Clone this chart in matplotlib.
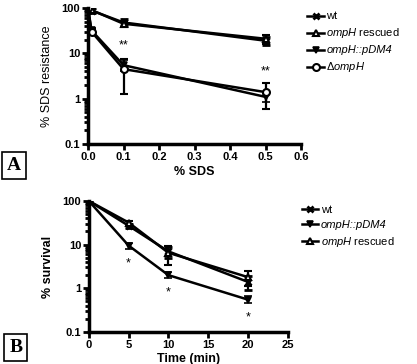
import matplotlib
matplotlib.use("Agg")
import matplotlib.pyplot as plt
from matplotlib.lines import Line2D
from matplotlib.ticker import LogLocator, NullFormatter, FixedLocator, FixedFormatter

plt.rcParams['font.family'] = ['Liberation Sans', 'DejaVu Sans']
plt.rcParams['mathtext.fontset'] = 'custom'
plt.rcParams['mathtext.it'] = 'Liberation Sans:italic'
plt.rcParams['mathtext.rm'] = 'Liberation Sans'

# Panel A data
sds = [0, 0.01, 0.1, 0.5]
wt_a = [100, 88, 48, 19]
wt_a_err = [6, 10, 8, 4]
resc_a = [100, 90, 45, 21]
resc_a_err = [6, 10, 6, 5]
pdm4_a = [100, 32, 5.5, 1.1]
pdm4_a_err = [4, 4, 1.5, 0.25]
delta_a = [100, 30, 4.5, 1.4]
delta_a_err = [4, 4, 3.2, 0.8]
stars_a_x = [0.1, 0.5]
stars_a_y = [15, 4.0]

# Panel B data
time = [0, 5, 10, 20]
wt_b = [100, 27, 7, 1.4]
wt_b_err = [0, 3, 2, 0.5]
pdm4_b = [100, 9.5, 2.0, 0.55]
pdm4_b_err = [0, 1.5, 0.3, 0.1]
resc_b = [100, 32, 6.5, 1.8]
resc_b_err = [0, 3, 3, 0.7]
stars_b_x = [5, 10, 20]
stars_b_y = [3.8, 0.8, 0.22]

fig = plt.figure(figsize=(4.17, 3.64), dpi=100)
axA = fig.add_axes([0.211, 0.604, 0.511, 0.374])
axB = fig.add_axes([0.213, 0.088, 0.477, 0.360])

lw = 1.8
common = dict(color='black', lw=lw, capsize=3, elinewidth=1.6, capthick=1.6, ms=5)

sty = {
    'wt': dict(marker='x', mew=2, mfc='black'),
    'resc': dict(marker='^', mfc='white', mew=1.5),
    'pdm4': dict(marker='v', mfc='black', mew=1.2),
    'delta': dict(marker='o', mfc='white', mew=1.5),
}

def handle(key):
    return Line2D([], [], color='black', lw=lw, ms=5, **sty[key])

def style(ax, xticks, xlabels, xlim):
    ax.set_yscale('log')
    ax.set_ylim(0.1, 100)
    ax.set_xlim(*xlim)
    for s in ['top', 'right']:
        ax.spines[s].set_visible(False)
    for s in ['left', 'bottom']:
        ax.spines[s].set_linewidth(2.5)
    ax.yaxis.set_major_locator(FixedLocator([0.1, 1, 10, 100]))
    ax.yaxis.set_major_formatter(FixedFormatter(['0.1', '1', '10', '100']))
    ax.yaxis.set_minor_locator(LogLocator(base=10, subs=range(2, 10)))
    ax.yaxis.set_minor_formatter(NullFormatter())
    ax.set_xticks(xticks)
    ax.set_xticklabels(xlabels)
    ax.tick_params(axis='both', which='major', width=2, length=4, labelsize=8, pad=1.5)
    ax.tick_params(axis='y', which='minor', width=2, length=3)
    for t in ax.get_xticklabels() + ax.get_yticklabels():
        t.set_fontweight('bold')

def make_legend(ax, keys, labels, italic_idx, anchor, spacing):
    leg = ax.legend([handle(k) for k in keys], labels, loc='upper left',
                    bbox_to_anchor=anchor, frameon=False, fontsize=8,
                    handlelength=1.5, handletextpad=0.2, labelspacing=spacing,
                    borderaxespad=0, borderpad=0)
    for i in italic_idx:
        leg.get_texts()[i].set_fontstyle('italic')
    return leg

# Panel A
axA.errorbar(sds, wt_a, yerr=wt_a_err, **sty['wt'], **common)
axA.errorbar(sds, resc_a, yerr=resc_a_err, **sty['resc'], **common)
axA.errorbar(sds, pdm4_a, yerr=pdm4_a_err, **sty['pdm4'], **common)
axA.errorbar(sds, delta_a, yerr=delta_a_err, **sty['delta'], **common)
for x, y in zip(stars_a_x, stars_a_y):
    axA.text(x, y, '**', ha='center', va='center', fontsize=9)
style(axA, [0, 0.1, 0.2, 0.3, 0.4, 0.5, 0.6], ['0.0', '0.1', '0.2', '0.3', '0.4', '0.5', '0.6'], (0, 0.6))
axA.set_xlabel('% SDS', fontsize=9, fontweight='bold', labelpad=3)
axA.set_ylabel('% SDS resistance', fontsize=9, labelpad=6)
make_legend(axA, ['wt', 'resc', 'pdm4', 'delta'],
            ['wt', r'$\it{ompH}$ rescued', 'ompH::pDM4', r'$\Delta\it{ompH}$'],
            [2], (1.03, 0.975), 0.45)

# Panel B
axB.errorbar(time, wt_b, yerr=wt_b_err, **sty['wt'], **common)
axB.errorbar(time, pdm4_b, yerr=pdm4_b_err, **sty['pdm4'], **common)
axB.errorbar(time, resc_b, yerr=resc_b_err, **sty['resc'], **common)
for x, y in zip(stars_b_x, stars_b_y):
    axB.text(x, y, '*', ha='center', va='center', fontsize=9)
style(axB, [0, 5, 10, 15, 20, 25], ['0', '5', '10', '15', '20', '25'], (0, 25))
axB.set_xlabel('Time (min)', fontsize=9, fontweight='bold', labelpad=2.5)
axB.set_ylabel('% survival', fontsize=9, fontweight='bold', labelpad=6)
make_legend(axB, ['wt', 'pdm4', 'resc'],
            ['wt', 'ompH::pDM4', r'$\it{ompH}$ rescued'],
            [1], (1.07, 0.97), 0.45)

# Panel letters
for lab, (x, y) in [('A', (0.034, 0.545)), ('B', (0.038, 0.045))]:
    fig.text(x, y, lab, fontsize=14, fontweight='bold', family='Liberation Serif',
             ha='center', va='center',
             bbox=dict(boxstyle='square,pad=0.25', fc='white', ec='black', lw=1.2))

fig.savefig('out.png', dpi=100)
